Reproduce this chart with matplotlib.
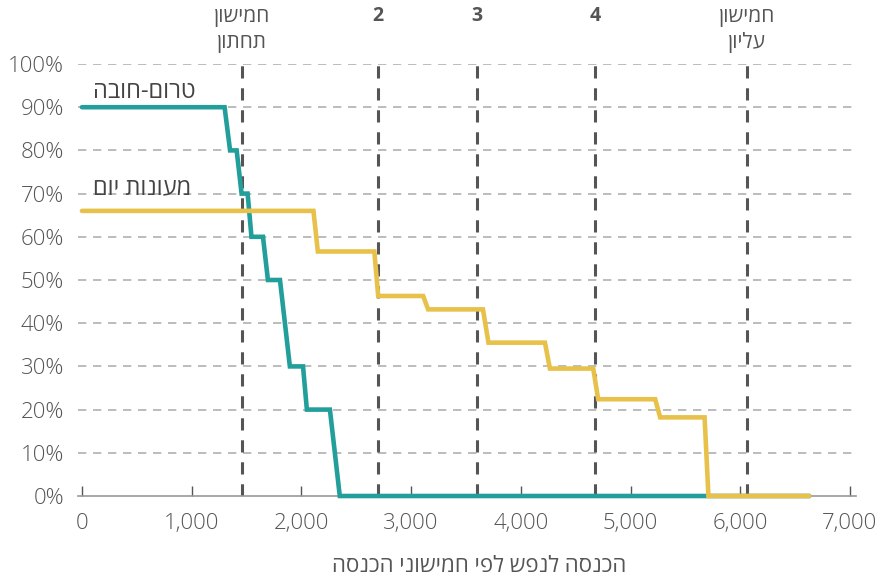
import matplotlib
matplotlib.use("Agg")
import matplotlib.pyplot as plt
from matplotlib.ticker import FuncFormatter

plt.rcParams['font.family'] = ['Open Sans', 'DejaVu Sans']

# income per capita (x) vs. share of cost paid by family (%)
preschool_x = [0, 1300, 1350, 1410, 1455, 1510, 1545, 1650, 1695, 1805, 1895, 2015, 2050, 2260, 2350, 6630]
preschool_y = [90, 90, 80, 80, 70, 70, 60, 60, 50, 50, 30, 30, 20, 20, 0, 0]

daycare_x = [0, 2110, 2150, 2665, 2700, 3110, 3155, 3655, 3705, 4220, 4265, 4660, 4705, 5225, 5270, 5675, 5710, 6630]
daycare_y = [66, 66, 56.6, 56.6, 46.3, 46.3, 43.2, 43.2, 35.5, 35.5, 29.5, 29.5, 22.4, 22.4, 18.2, 18.2, 0, 0]

# quintile boundaries
quintile_x = [1458, 2698, 3600, 4676, 6062]
quintile_top = ["חמישון", "2", "3", "4", "חמישון"]
quintile_bottom = ["תחתון", "", "", "", "עליון"]

x_ticks = [0, 1000, 2000, 3000, 4000, 5000, 6000, 7000]
y_ticks = [0, 10, 20, 30, 40, 50, 60, 70, 80, 90, 100]

series_names = ["טרום-חובה", "מעונות יום"]
x_title = "הכנסה לנפש לפי חמישוני הכנסה"


def heb(s):
    # matplotlib has no bidi support, so lay out RTL text by hand
    return s[::-1]


teal = "#229e9b"
yellow = "#e8c14b"
grey = "#555555"

fig = plt.figure(figsize=(8.84, 5.82), dpi=100)
ax = fig.add_axes([78/884, 1-496/582, 778/884, 432/582])

ax.set_xlim(-36, 7055)
ax.set_ylim(0, 100)

for y in y_ticks[1:]:
    ax.axhline(y, color="#b0b0b0", lw=1.2, ls=(0, (5, 4)), zorder=1)

for x in quintile_x:
    ax.axvline(x, color=grey, lw=2.2, ls=(0, (4, 3.2)), zorder=2)

ax.plot(preschool_x, preschool_y, color=teal, lw=3.3, zorder=3,
        clip_on=False, solid_joinstyle="miter", solid_capstyle="round")
ax.plot(daycare_x, daycare_y, color=yellow, lw=3.3, zorder=4,
        clip_on=False, solid_joinstyle="miter", solid_capstyle="round")

ax.text(100, 93.5, heb(series_names[0]), fontsize=17, color="#444444",
        ha="left", va="center")
ax.text(100, 71.3, heb(series_names[1]), fontsize=17, color="#444444",
        ha="left", va="center")

trans = ax.get_xaxis_transform()
for x, top, bottom in zip(quintile_x, quintile_top, quintile_bottom):
    if top.isdigit():
        ax.text(x, 1.11, top, transform=trans, ha="center", va="center",
                fontsize=14, fontweight="bold", color=grey)
    else:
        ax.text(x, 1.11, heb(top), transform=trans, ha="center", va="center",
                fontsize=15, color=grey)
        ax.text(x, 1.05, heb(bottom), transform=trans, ha="center", va="center",
                fontsize=15, color=grey)

ax.set_xticks(x_ticks)
ax.set_yticks(y_ticks)
ax.xaxis.set_major_formatter(FuncFormatter(lambda v, p: f"{int(v):,}"))
ax.yaxis.set_major_formatter(FuncFormatter(lambda v, p: f"{int(v)}%"))
ax.tick_params(axis="x", direction="in", length=7, width=1, color=grey,
               labelsize=16, labelcolor=grey, pad=12)
ax.tick_params(axis="y", length=0, labelsize=16, labelcolor=grey, pad=10)
for lbl in ax.get_xticklabels() + ax.get_yticklabels():
    lbl.set_fontweight("light")

for side in ["top", "right", "left"]:
    ax.spines[side].set_visible(False)
ax.spines["bottom"].set_color("#999999")
ax.spines["bottom"].set_linewidth(1.2)

ax.set_xlabel(heb(x_title), fontsize=16, color=grey)
ax.xaxis.set_label_coords(0.515, -0.14)

fig.savefig("out.png", dpi=100)
